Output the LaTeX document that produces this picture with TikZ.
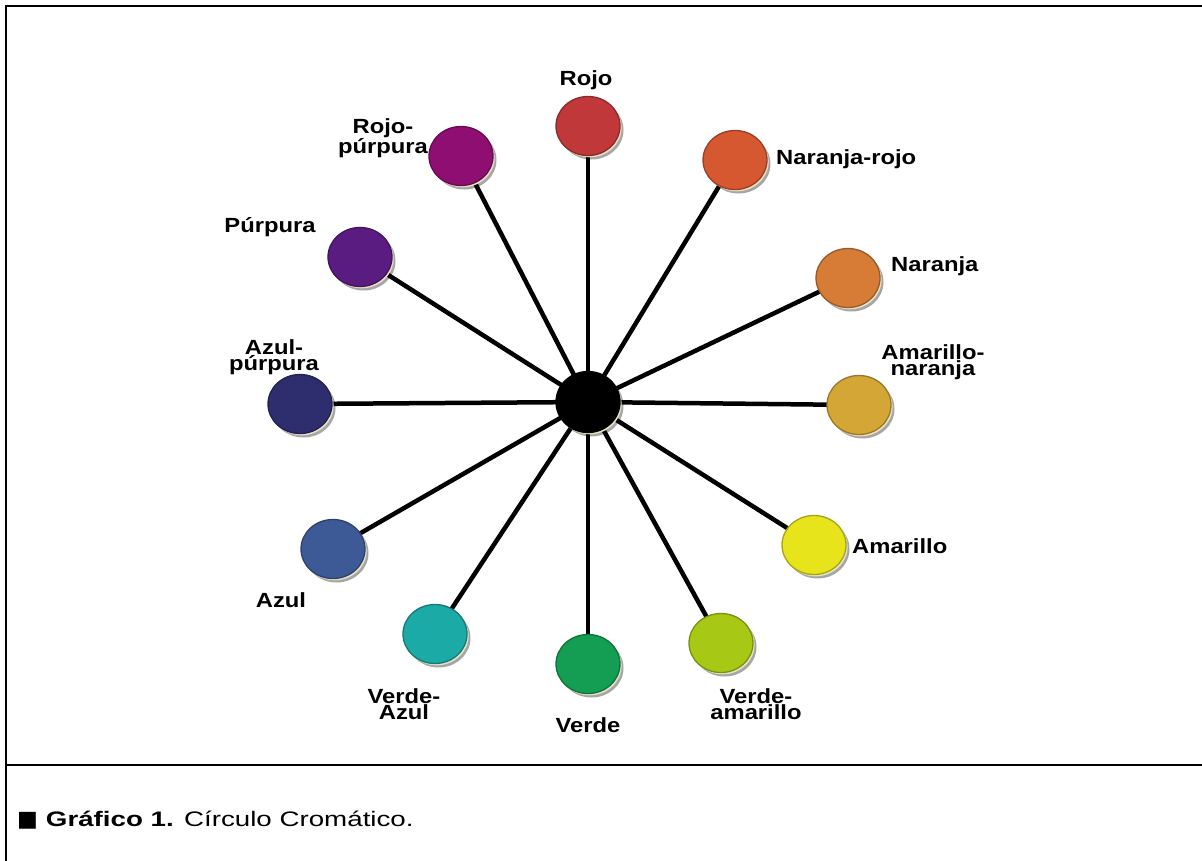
\documentclass[tikz,border=0pt]{standalone}
\usepackage{fontspec}
\setmainfont{Liberation Sans}
\newfontfamily\lblfont[FakeStretch=1.16]{Liberation Sans}
\newfontfamily\capfont[FakeStretch=1.32]{Liberation Sans}
\newfontfamily\symfont{DejaVu Sans}
\usetikzlibrary{shadows,backgrounds,shapes.geometric}

\definecolor{rimc}{RGB}{232,226,196}
\definecolor{cRojo}{RGB}{192,56,58}
\definecolor{cNarRojo}{RGB}{214,88,48}
\definecolor{cNaranja}{RGB}{214,124,54}
\definecolor{cAmNar}{RGB}{212,166,54}
\definecolor{cAmarillo}{RGB}{232,228,28}
\definecolor{cVerAm}{RGB}{168,200,22}
\definecolor{cVerde}{RGB}{20,158,84}
\definecolor{cVerAzul}{RGB}{28,170,166}
\definecolor{cAzul}{RGB}{62,90,150}
\definecolor{cAzulPur}{RGB}{46,45,110}
\definecolor{cPurpura}{RGB}{90,28,128}
\definecolor{cRojoPur}{RGB}{142,14,114}

\tikzset{
  ball/.style={ellipse, minimum width=64pt, minimum height=59pt, inner sep=0pt,
    fill=#1, draw=#1!72!black, line width=1.3pt,
    general shadow={shadow xshift=3.5pt, shadow yshift=-4pt, fill=black, opacity=.35},
    general shadow={shadow xshift=1.6pt, shadow yshift=-1.8pt, fill=rimc}},
  spoke/.style={line width=4.5pt, black},
  lbl/.style={font=\lblfont\bfseries\fontsize{20.5}{14.5}\selectfont, align=center, inner sep=0pt},
  frame/.style={line width=2.6pt, black}
}

\begin{document}
\begin{tikzpicture}[x=1pt,y=-1pt]
\useasboundingbox (0,0) rectangle (1202,860);

% outer frame and divider above the caption
\draw[frame] (6,866) -- (6,6) -- (1208,6);
\draw[frame] (6,765) -- (1208,765);

% hub and colour balls
\node[ball=black, draw=black, minimum height=61pt] (hub) at (588,402) {};
\node[ball=cRojo]     (rojo)     at (588,126) {};
\node[ball=cNarRojo]  (narrojo)  at (735,160) {};
\node[ball=cNaranja]  (naranja)  at (848,278) {};
\node[ball=cAmNar]    (amnar)    at (859,405) {};
\node[ball=cAmarillo] (amarillo) at (814,545) {};
\node[ball=cVerAm]    (veram)    at (721,643) {};
\node[ball=cVerde]    (verde)    at (588,664) {};
\node[ball=cVerAzul]  (verazul)  at (435,634) {};
\node[ball=cAzul]     (azul)     at (333,549) {};
\node[ball=cAzulPur]  (azulpur)  at (300,404) {};
\node[ball=cPurpura]  (purpura)  at (360,257) {};
\node[ball=cRojoPur]  (rojopur)  at (461,156) {};

% spokes behind the balls
\begin{pgfonlayer}{background}
\foreach \b in {rojo,narrojo,naranja,amnar,amarillo,veram,verde,verazul,azul,azulpur,purpura,rojopur}
  \draw[spoke] (hub.center) -- (\b.center);
\end{pgfonlayer}

% labels
\node[lbl] (lrojo)     at (586,80)  {Rojo};
\node[lbl,anchor=west] (lnarrojo) at (776,159) {Naranja-rojo};
\node[lbl,anchor=west] (lnaranja) at (891,266) {Naranja};
\node[lbl] (lamnar)    at (933,362) {Amarillo-\\naranja};
\node[lbl,anchor=west] (lamarillo) at (852,546) {Amarillo};
\node[lbl] (lveram)    at (756,704) {Verde-\\amarillo};
\node[lbl] (lverde)    at (588,725) {Verde};
\node[lbl] (lverazul)  at (404,704) {Verde-\\Azul};
\node[lbl] (lazul)     at (281,600) {Azul};
\node[lbl] (lazulpur)  at (274,357) {Azul-\\púrpura};
\node[lbl] (lpurpura)  at (270,227) {Púrpura};
\node[lbl] (lrojopur)  at (383,138) {Rojo-\\púrpura};

% caption
\node[anchor=west, inner sep=0pt, font=\capfont\fontsize{21}{24}\selectfont] (caption) at (17,820)
  {{\symfont\fontsize{22}{24}\selectfont ■}\hspace{8pt}\textbf{Gráfico 1.} Círculo Cromático.};
\end{tikzpicture}
\end{document}
